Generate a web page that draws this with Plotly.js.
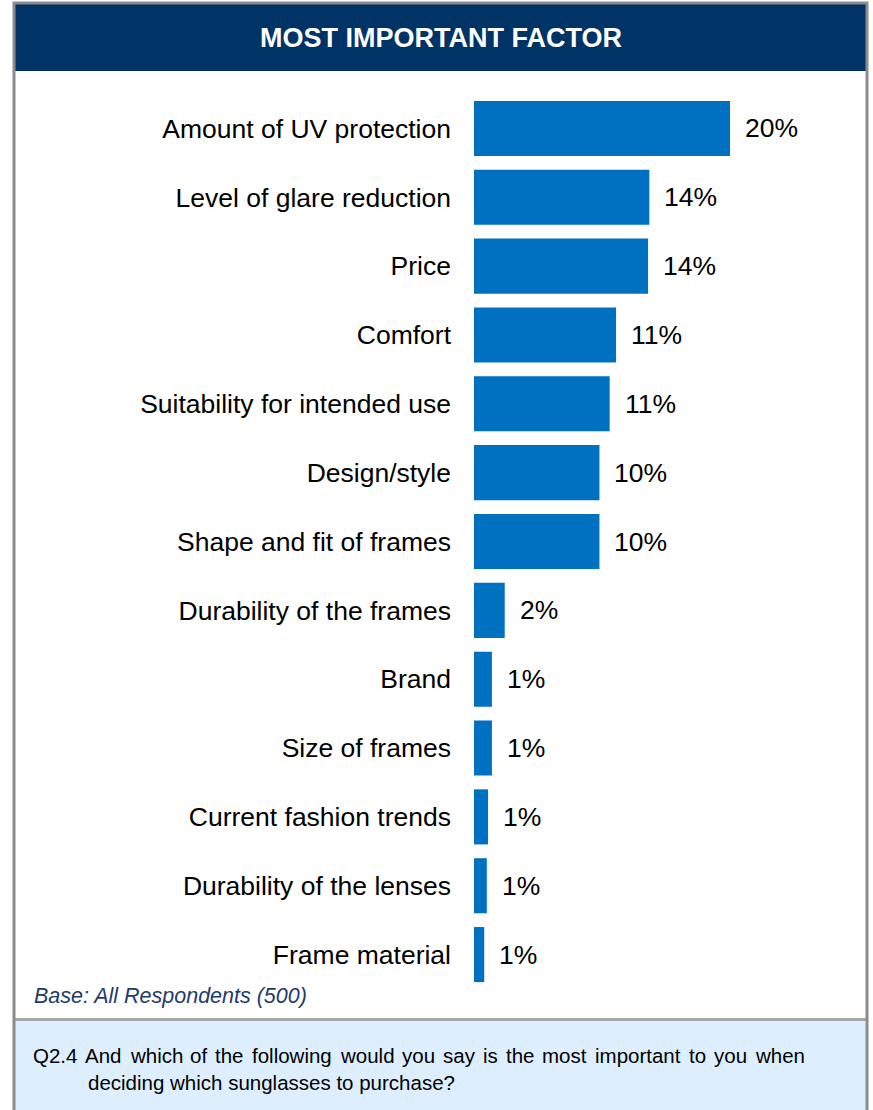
<!DOCTYPE html>
<html>
<head>
<meta charset="utf-8">
<script src="https://cdn.plot.ly/plotly-3.0.1.min.js"></script>
<style>
html,body{margin:0;padding:0;background:#fff;}
#chart{width:873px;height:1110px;}
</style>
</head>
<body>
<div id="chart"></div>
<script>
// ---- data ----
const categories = [
  "Amount of UV protection",
  "Level of glare reduction",
  "Price",
  "Comfort",
  "Suitability for intended use",
  "Design/style",
  "Shape and fit of frames",
  "Durability of the frames",
  "Brand",
  "Size of frames",
  "Current fashion trends",
  "Durability of the lenses",
  "Frame material"
];
const values = [20.0, 13.7, 13.6, 11.1, 10.6, 9.8, 9.8, 2.4, 1.4, 1.4, 1.1, 1.0, 0.8];
const chartTitle = "MOST IMPORTANT FACTOR";
const baseNote = "Base: All Respondents (500)";
const questionNumber = "Q2.4";
const questionLine1 = "And which of the following would you say is the most important to you when";
const questionLine2 = "deciding which sunglasses to purchase?";

// ---- layout geometry ----
const W = 873, H = 1110;
const L = 474, R = 15, T = 94, B = 121;
const PW = W - L - R, PH = H - T - B;
const px = v => (v - L) / PW;          // pixel x -> paper x
const py = v => (H - B - v) / PH;      // pixel y -> paper y

const FONT = "Liberation Sans, Arial, Helvetica, sans-serif";
const LABEL_SIZE = 26.5;
const Q_SIZE = 20.5;

const trace = {
  type: "bar",
  orientation: "h",
  x: values,
  y: categories,
  marker: {color: "#0070C0", line: {width: 0}},
  hoverinfo: "skip"
};

const annotations = values.map((v, i) => ({
  x: v, y: categories[i], xref: "x", yref: "y",
  text: Math.round(v) + "%",
  showarrow: false, xanchor: "left", yanchor: "middle",
  xshift: 13,
  font: {family: FONT, size: LABEL_SIZE, color: "#000"}
}));

annotations.push({
  xref: "paper", yref: "paper", x: px(441), y: py(38),
  text: "<b>" + chartTitle + "</b>", showarrow: false,
  xanchor: "center", yanchor: "middle",
  font: {family: FONT, size: 27, color: "#FFFFFF"}
});
annotations.push({
  xref: "paper", yref: "paper", x: px(32), y: py(996),
  text: "<i>" + baseNote + "</i>", showarrow: false,
  xanchor: "left", yanchor: "middle",
  font: {family: FONT, size: 21.5, color: "#1F3B6B"}
});

// justified first line of the question (word positions from measured text widths)
const cv = document.createElement("canvas").getContext("2d");
cv.font = Q_SIZE + 'px "Liberation Sans", Arial, sans-serif';
const words = questionLine1.split(" ");
const startX = 84, endX = 803;
const widths = words.map(w => cv.measureText(w).width);
const totalW = widths.reduce((a, b) => a + b, 0);
const gap = (endX - startX - totalW) / (words.length - 1);
annotations.push({
  xref: "paper", yref: "paper", x: px(31), y: py(1055),
  text: questionNumber, showarrow: false,
  xanchor: "left", yanchor: "middle",
  font: {family: FONT, size: Q_SIZE, color: "#000"}
});
let cx = startX;
words.forEach((w, i) => {
  annotations.push({
    xref: "paper", yref: "paper", x: px(cx - 1), y: py(1055),
    text: w, showarrow: false, xanchor: "left", yanchor: "middle",
    font: {family: FONT, size: Q_SIZE, color: "#000"}
  });
  cx += widths[i] + gap;
});
annotations.push({
  xref: "paper", yref: "paper", x: px(86), y: py(1082),
  text: questionLine2, showarrow: false,
  xanchor: "left", yanchor: "middle",
  font: {family: FONT, size: Q_SIZE, color: "#000"}
});

const shapes = [
  {type: "rect", xref: "paper", yref: "paper", layer: "below",
   x0: px(15), x1: px(866), y0: py(4), y1: py(71),
   fillcolor: "#003366", line: {width: 0}},
  {type: "rect", xref: "paper", yref: "paper", layer: "below",
   x0: px(15), x1: px(866), y0: py(1019.5), y1: py(1112),
   fillcolor: "#DDEEFF", line: {width: 0}},
  {type: "line", xref: "paper", yref: "paper", layer: "above",
   x0: px(15), x1: px(866), y0: py(1019.5), y1: py(1019.5),
   line: {color: "#A6A6A6", width: 3}},
  {type: "rect", xref: "paper", yref: "paper", layer: "above",
   x0: px(14), x1: px(867), y0: py(3), y1: py(1115),
   fillcolor: "rgba(0,0,0,0)", line: {color: "#8C8C8C", width: 3}}
];

const layout = {
  width: W, height: H,
  margin: {l: L, r: R, t: T, b: B, pad: 0},
  paper_bgcolor: "#FFFFFF",
  plot_bgcolor: "rgba(0,0,0,0)",
  showlegend: false,
  bargap: 0.2,
  xaxis: {range: [0, 30], visible: false, fixedrange: true},
  yaxis: {
    type: "category", autorange: "reversed",
    showgrid: false, zeroline: false, showline: false, ticks: "",
    ticklabelstandoff: 22,
    tickfont: {family: FONT, size: LABEL_SIZE, color: "#000"},
    fixedrange: true
  },
  annotations: annotations,
  shapes: shapes,
  font: {family: FONT}
};

Plotly.newPlot("chart", [trace], layout, {staticPlot: true, displayModeBar: false});
</script>
</body>
</html>
